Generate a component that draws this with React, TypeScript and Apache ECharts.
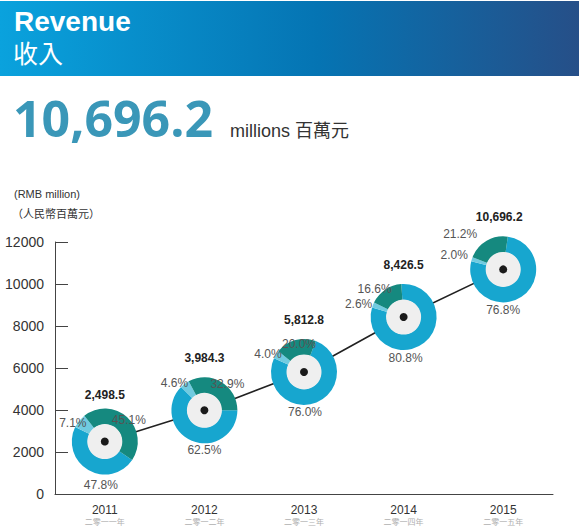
import React, { useEffect, useRef } from "react";
import * as echarts from "echarts";

// ---- data ----
const years = ["2011", "2012", "2013", "2014", "2015"];
const yearsCn = ["二零一一年", "二零一二年", "二零一三年", "二零一四年", "二零一五年"];
const totals = [2498.5, 3984.3, 5812.8, 8426.5, 10696.2];
const shareBlue = [47.8, 62.5, 76.0, 80.8, 76.8];
const shareLight = [7.1, 4.6, 4.0, 2.6, 2.0];
const shareTeal = [45.1, 32.9, 20.0, 16.6, 21.2];
const yMin = 0;
const yMax = 12000;
const yStep = 2000;
const headline = "10,696.2";

// ---- layout / style (not data) ----
const startAngles = [-34, 0, 69, 94, 82];
const offTotal = [[0, -47], [0, -52], [0, -52], [0, -52], [-4, -52]];
const offBlue = [[-4, 43], [0, 40], [1, 40], [2, 41], [0, 41]];
const offLight = [[-32, -19], [-30, -27], [-36, -18], [-45, -13], [-49, -14]];
const offTeal = [[24, -22], [23, -26], [-5, -28], [-29, -28], [-43, -35]];

const C_BLUE = "#17a6cf";
const C_LIGHT = "#70cbe0";
const C_TEAL = "#15897f";
const FONT = "'Liberation Sans', Arial, 'Noto Sans CJK TC', sans-serif";

const fmt = (v: number) =>
  v.toLocaleString("en-US", { minimumFractionDigits: 1, maximumFractionDigits: 1 });

export default function App() {
  const ref = useRef<HTMLDivElement>(null);

  useEffect(() => {
    document.body.style.margin = "0";
    const chart = echarts.init(ref.current!, null, { renderer: "svg" });

    const base: any = {
      animation: false,
      textStyle: { fontFamily: FONT },
      grid: {
        left: 55,
        right: 29,
        top: 242,
        bottom: 32,
        containLabel: false,
        outerBoundsMode: "none",
      },
      xAxis: {
        type: "category",
        data: years,
        boundaryGap: true,
        axisLine: { lineStyle: { color: "#444", width: 1 } },
        axisTick: { inside: true, length: 9, lineStyle: { color: "#444" } },
        axisLabel: {
          interval: 0,
          margin: 9,
          formatter: (v: string) => {
            const i = years.indexOf(v);
            return `{y|${v}}\n{c|${yearsCn[i]}}`;
          },
          rich: {
            y: { fontSize: 12, color: "#333", lineHeight: 14, fontFamily: FONT },
            c: {
              fontSize: 8,
              color: "#b0b0b0",
              lineHeight: 8,
              fontFamily: "'Noto Sans CJK TC', sans-serif",
            },
          },
        },
      },
      yAxis: {
        type: "value",
        min: yMin,
        max: yMax,
        interval: yStep,
        splitLine: { show: false },
        axisLine: { show: true, lineStyle: { color: "#444", width: 1 } },
        axisTick: { show: true, inside: true, length: 13, lineStyle: { color: "#444" } },
        axisLabel: {
          fontSize: 14,
          color: "#333",
          margin: 11,
          formatter: (v: number) => String(v),
        },
      },
      graphic: [
        {
          type: "rect",
          left: 0,
          top: 1,
          shape: { width: 579, height: 75 },
          style: {
            fill: new echarts.graphic.LinearGradient(0, 0, 1, 0, [
              { offset: 0, color: "#0aa2dd" },
              { offset: 0.55, color: "#0574b3" },
              { offset: 1, color: "#264f88" },
            ]),
          },
          silent: true,
        },
        {
          type: "text",
          x: 14,
          y: 21,
          style: {
            text: "Revenue",
            fontSize: 28,
            fontWeight: "bold",
            fontFamily: FONT,
            fill: "#ffffff",
            textVerticalAlign: "middle",
          },
        },
        {
          type: "text",
          x: 13,
          y: 52,
          style: {
            text: "收入",
            fontSize: 25,
            fontFamily: "'Noto Sans CJK TC', sans-serif",
            fill: "#ffffff",
            textVerticalAlign: "middle",
          },
        },
        {
          type: "text",
          x: 13,
          y: 118,
          style: {
            text: headline,
            fontSize: 50,
            fontWeight: "bold",
            fontFamily: "'Open Sans', sans-serif",
            fill: "#3a97b8",
            textVerticalAlign: "middle",
          },
        },
        {
          type: "text",
          x: 230,
          y: 131,
          style: {
            text: "millions 百萬元",
            fontSize: 18,
            fontFamily: FONT,
            fill: "#333",
            textVerticalAlign: "middle",
          },
        },
        {
          type: "text",
          x: 14,
          y: 194,
          style: {
            text: "(RMB million)",
            fontSize: 11,
            fontFamily: FONT,
            fill: "#333",
            textVerticalAlign: "middle",
          },
        },
        {
          type: "text",
          x: 12,
          y: 213,
          style: {
            text: "（人民幣百萬元）",
            fontSize: 11,
            fontFamily: "'Noto Sans CJK TC', sans-serif",
            fill: "#333",
            textVerticalAlign: "middle",
          },
        },
      ],
      series: [
        {
          type: "line",
          data: totals,
          symbol: "none",
          z: 1,
          lineStyle: { color: "#222", width: 1.6 },
        },
      ],
    };
    chart.setOption(base);

    const centers = totals.map((v, i) =>
      chart.convertToPixel({ gridIndex: 0 }, [i, v]) as number[]
    );

    const pies = years.map((y, i) => ({
      type: "pie",
      name: y,
      center: centers[i],
      radius: [17, 33],
      startAngle: startAngles[i],
      clockwise: true,
      z: 2,
      silent: true,
      label: { show: false },
      labelLine: { show: false },
      itemStyle: { borderWidth: 0 },
      data: [
        { name: "blue", value: shareBlue[i], itemStyle: { color: C_BLUE } },
        { name: "light", value: shareLight[i], itemStyle: { color: C_LIGHT } },
        { name: "teal", value: shareTeal[i], itemStyle: { color: C_TEAL } },
      ],
    }));

    const overlay = {
      type: "custom",
      z: 3,
      clip: false,
      silent: true,
      data: totals.map((v, i) => [i, v]),
      renderItem: (params: any, api: any) => {
        const i = params.dataIndex;
        const p = api.coord([api.value(0), api.value(1)]);
        const cx = p[0];
        const cy = p[1];
        const pct = (o: number[], v: number) => ({
          type: "text",
          x: cx + o[0],
          y: cy + o[1],
          style: {
            text: v.toFixed(1) + "%",
            fontSize: 12,
            fontFamily: FONT,
            fill: "#555",
            textAlign: "center",
            textVerticalAlign: "middle",
          },
        });
        return {
          type: "group",
          children: [
            {
              type: "circle",
              shape: { cx, cy, r: 17.5 },
              style: { fill: "#efefef" },
            },
            {
              type: "circle",
              shape: { cx, cy, r: 4 },
              style: { fill: "#1a1a1a" },
            },
            {
              type: "text",
              x: cx + offTotal[i][0],
              y: cy + offTotal[i][1],
              style: {
                text: fmt(totals[i]),
                fontSize: 12,
                fontWeight: "bold",
                fontFamily: FONT,
                fill: "#222",
                textAlign: "center",
                textVerticalAlign: "middle",
              },
            },
            pct(offBlue[i], shareBlue[i]),
            pct(offLight[i], shareLight[i]),
            pct(offTeal[i], shareTeal[i]),
          ],
        };
      },
    };

    chart.setOption({ series: [base.series[0], ...pies, overlay] });

    return () => chart.dispose();
  }, []);

  return <div ref={ref} style={{ width: 582, height: 526 }} />;
}
